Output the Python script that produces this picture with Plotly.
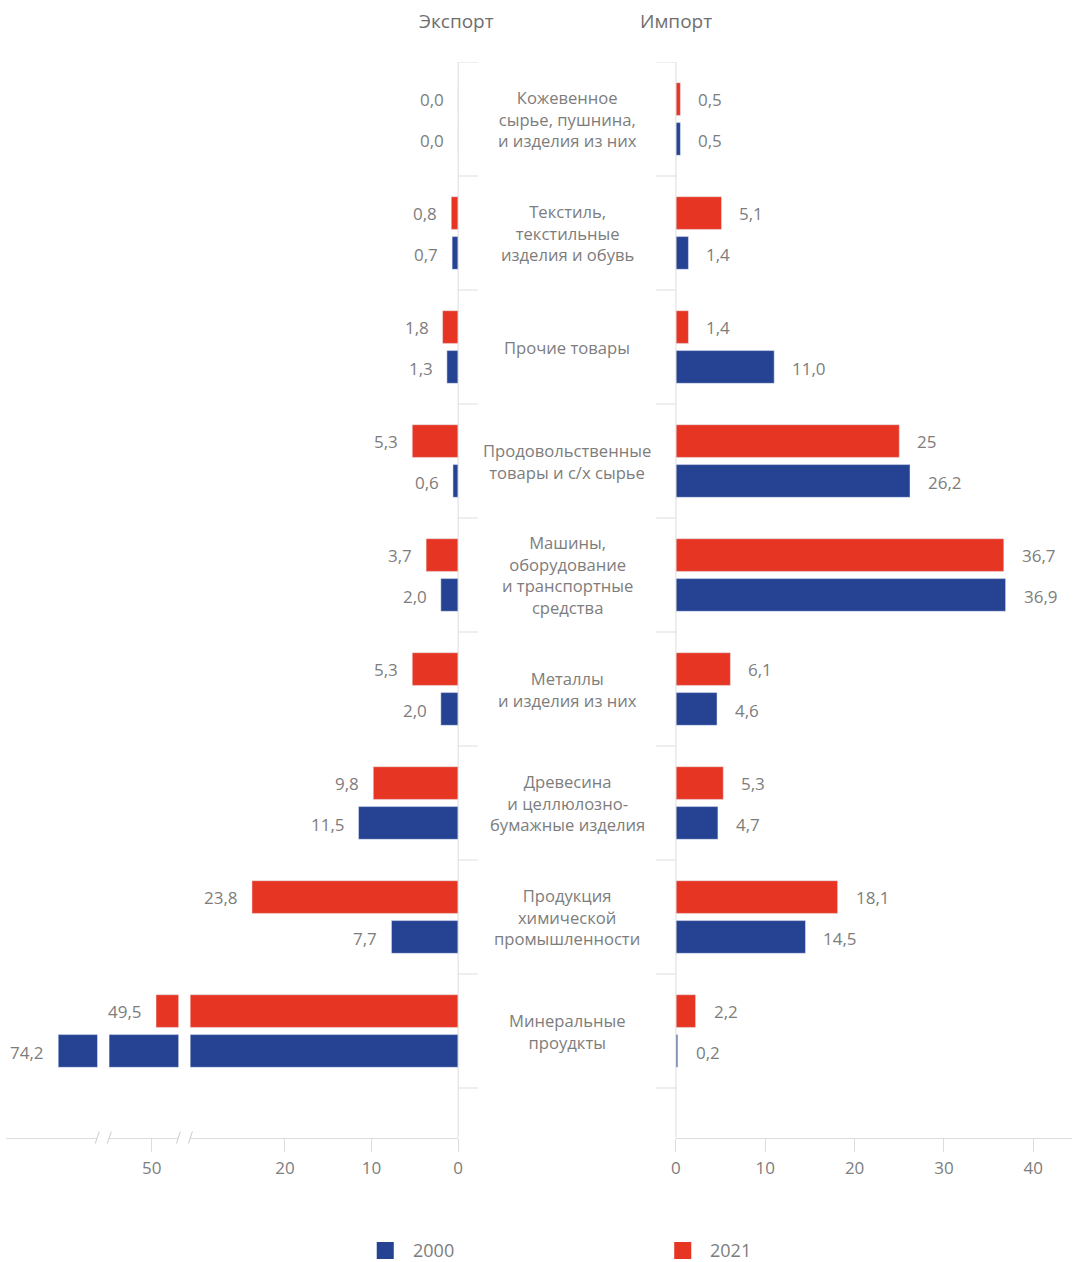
import plotly.graph_objects as go

# ---------------- data ----------------
categories = [
    "Кожевенное<br>сырье, пушнина,<br>и изделия из них",
    "Текстиль,<br>текстильные<br>изделия и обувь",
    "Прочие товары",
    "Продовольственные<br>товары и с/х сырье",
    "Машины,<br>оборудование<br>и транспортные<br>средства",
    "Металлы<br>и изделия из них",
    "Древесина<br>и целлюлозно-<br>бумажные изделия",
    "Продукция<br>химической<br>промышленности",
    "Минеральные<br>проудкты",
]
export_2021 = [0.0, 0.8, 1.8, 5.3, 3.7, 5.3, 9.8, 23.8, 49.5]
export_2000 = [0.0, 0.7, 1.3, 0.6, 2.0, 2.0, 11.5, 7.7, 74.2]
import_2021 = [0.5, 5.1, 1.4, 25.0, 36.7, 6.1, 5.3, 18.1, 2.2]
import_2000 = [0.5, 1.4, 11.0, 26.2, 36.9, 4.6, 4.7, 14.5, 0.2]
export_2021_labels = ["0,0", "0,8", "1,8", "5,3", "3,7", "5,3", "9,8", "23,8", "49,5"]
export_2000_labels = ["0,0", "0,7", "1,3", "0,6", "2,0", "2,0", "11,5", "7,7", "74,2"]
import_2021_labels = ["0,5", "5,1", "1,4", "25", "36,7", "6,1", "5,3", "18,1", "2,2"]
import_2000_labels = ["0,5", "1,4", "11,0", "26,2", "36,9", "4,6", "4,7", "14,5", "0,2"]
export_ticks = [0, 10, 20]
export_ticks_mid = [50]
import_ticks = [0, 10, 20, 30, 40]
series_names = ["2021", "2000"]

# ---------------- style ----------------
W, H = 1077, 1262
RED = "#E63523"
BLUE = "#264293"
TXT = "#7d7d7d"
LINE = "#dddddd"
FONT = "Open Sans"
KX = 1.011  # small horizontal stretch about the centre


def fx(px):
    v = (W / 2 + (px - W / 2) * KX) / W
    return min(max(v, 0.0), 1.0)


def fy(py):
    return 1 - py / H


# broken export axis: three segments (pixel domains), same scale
PPU_L = 8.65
seg1_dom = (191, 458.3)
seg2_dom = (110, 179)
seg3_dom = (7, 98)
seg1_range = [(seg1_dom[1] - seg1_dom[0]) / PPU_L, 0]
x50 = 152.3
seg2_range = [50 + (x50 - seg2_dom[0]) / PPU_L, 50 - (seg2_dom[1] - x50) / PPU_L]
x742 = 59
seg3_range = [74.2 + (x742 - seg3_dom[0]) / PPU_L, 74.2 - (seg3_dom[1] - x742) / PPU_L]
PPU_R = 8.92
imp_left = 675.7
imp_right = (W * fx(W) - W / 2) / KX + W / 2  # pixel position of the clamped right edge
imp_range = [0, (imp_right - imp_left) / PPU_R]

Y_TOP, Y_BOT = 62, 1137.5
ROW = 114
y_range = [len(categories) - 0.5 + (Y_BOT - (Y_TOP + ROW * len(categories))) / ROW, -0.5]

fig = go.Figure()
for ax in ["x", "x2", "x3"]:
    fig.add_trace(go.Bar(y=categories, x=export_2021, orientation="h", marker_color=RED,
                         xaxis=ax, yaxis="y", showlegend=False, name=series_names[0]))
    fig.add_trace(go.Bar(y=categories, x=export_2000, orientation="h", marker_color=BLUE,
                         xaxis=ax, yaxis="y", showlegend=False, name=series_names[1]))
fig.add_trace(go.Bar(y=categories, x=import_2021, orientation="h", marker_color=RED,
                     xaxis="x4", yaxis="y", showlegend=False, name=series_names[0]))
fig.add_trace(go.Bar(y=categories, x=import_2000, orientation="h", marker_color=BLUE,
                     xaxis="x4", yaxis="y", showlegend=False, name=series_names[1]))

axis_common = dict(anchor="y", showgrid=False, zeroline=False, showline=True, linecolor=LINE,
                   linewidth=1, ticks="outside", ticklen=13, tickcolor=LINE, tickwidth=1,
                   tickfont=dict(family=FONT, size=17, color=TXT), fixedrange=True,
                   ticklabelstandoff=2)

annotations = []
shapes = []


def export_axis(v):
    if v <= seg1_range[0]:
        return "x"
    if v <= seg2_range[0]:
        return "x2"
    return "x3"


UP, DOWN = 20, -21  # px offset of each bar's label from the row centre
for cat, v, t in zip(categories, export_2021, export_2021_labels):
    annotations.append(dict(x=v, y=cat, xref=export_axis(v), yref="y", text=t, showarrow=False,
                            xanchor="right", yanchor="middle", xshift=-12, yshift=UP,
                            font=dict(family=FONT, size=17, color=TXT)))
for cat, v, t in zip(categories, export_2000, export_2000_labels):
    annotations.append(dict(x=v, y=cat, xref=export_axis(v), yref="y", text=t, showarrow=False,
                            xanchor="right", yanchor="middle", xshift=-12, yshift=DOWN,
                            font=dict(family=FONT, size=17, color=TXT)))
for cat, v, t in zip(categories, import_2021, import_2021_labels):
    annotations.append(dict(x=v, y=cat, xref="x4", yref="y", text=t, showarrow=False,
                            xanchor="left", yanchor="middle", xshift=16, yshift=UP,
                            font=dict(family=FONT, size=17, color=TXT)))
for cat, v, t in zip(categories, import_2000, import_2000_labels):
    annotations.append(dict(x=v, y=cat, xref="x4", yref="y", text=t, showarrow=False,
                            xanchor="left", yanchor="middle", xshift=16, yshift=DOWN,
                            font=dict(family=FONT, size=17, color=TXT)))

# category labels in the centre column
for cat in categories:
    annotations.append(dict(x=fx(567), y=cat, xref="paper", yref="y", text=cat, showarrow=False,
                            xanchor="center", yanchor="middle", align="center",
                            font=dict(family=FONT, size=16.6, color=TXT)))

# panel titles
annotations.append(dict(x=fx(457), y=fy(21), xref="paper", yref="paper", text="Экспорт",
                        showarrow=False, xanchor="center", yanchor="middle",
                        font=dict(family=FONT, size=19, color="#6e6e6e")))
annotations.append(dict(x=fx(676), y=fy(21), xref="paper", yref="paper", text="Импорт",
                        showarrow=False, xanchor="center", yanchor="middle",
                        font=dict(family=FONT, size=19, color="#6e6e6e")))

# central vertical lines
for xp in (seg1_dom[1], imp_left):
    shapes.append(dict(type="line", xref="paper", yref="paper", x0=fx(xp), x1=fx(xp),
                       y0=fy(Y_TOP), y1=fy(Y_BOT), line=dict(color=LINE, width=1)))
# row separators
for k in range(len(categories) + 1):
    yb = k - 0.5
    shapes.append(dict(type="line", xref="paper", yref="y", x0=fx(458.3), x1=fx(478),
                       y0=yb, y1=yb, line=dict(color=LINE, width=1)))
    shapes.append(dict(type="line", xref="paper", yref="y", x0=fx(656), x1=fx(imp_left),
                       y0=yb, y1=yb, line=dict(color=LINE, width=1)))
# axis break marks
for xp in (seg3_dom[1], seg2_dom[0], seg2_dom[1], seg1_dom[0]):
    shapes.append(dict(type="line", xref="paper", yref="paper", x0=fx(xp - 2), x1=fx(xp + 2),
                       y0=fy(Y_BOT + 6), y1=fy(Y_BOT - 6), line=dict(color="#cccccc", width=1)))

# legend
legend_items = [(series_names[1], BLUE, 377, 411), (series_names[0], RED, 674, 708)]
for name, col, sx, tx in legend_items:
    shapes.append(dict(type="rect", xref="paper", yref="paper", x0=fx(sx), x1=fx(sx + 17),
                       y0=fy(1259), y1=fy(1242), fillcolor=col, line=dict(width=0)))
    annotations.append(dict(x=fx(tx), y=fy(1250), xref="paper", yref="paper", text=name,
                            showarrow=False, xanchor="left", yanchor="middle",
                            font=dict(family=FONT, size=18, color=TXT)))

fig.update_layout(
    width=W, height=H, autosize=False,
    margin=dict(l=0, r=0, t=0, b=0),
    paper_bgcolor="white", plot_bgcolor="white",
    barmode="group", bargap=0.3, bargroupgap=0.18,
    xaxis=dict(domain=[fx(seg1_dom[0]), fx(seg1_dom[1])], range=seg1_range,
               tickvals=export_ticks, ticktext=[str(t) for t in export_ticks], **axis_common),
    xaxis2=dict(domain=[fx(seg2_dom[0]), fx(seg2_dom[1])], range=seg2_range,
                tickvals=export_ticks_mid, ticktext=[str(t) for t in export_ticks_mid], **axis_common),
    xaxis3=dict(domain=[fx(seg3_dom[0]), fx(seg3_dom[1])], range=seg3_range,
                tickvals=[], **axis_common),
    xaxis4=dict(domain=[fx(imp_left), fx(W)], range=imp_range,
                tickvals=import_ticks, ticktext=[str(t) for t in import_ticks], **axis_common),
    yaxis=dict(domain=[fy(Y_BOT), fy(Y_TOP)], range=y_range, visible=False, fixedrange=True),
    annotations=annotations, shapes=shapes,
    font=dict(family=FONT, color=TXT),
)

fig.write_html("out.html", config={"displayModeBar": False, "staticPlot": True},
               post_script="document.body.style.margin='0';document.body.style.overflow='hidden';")
